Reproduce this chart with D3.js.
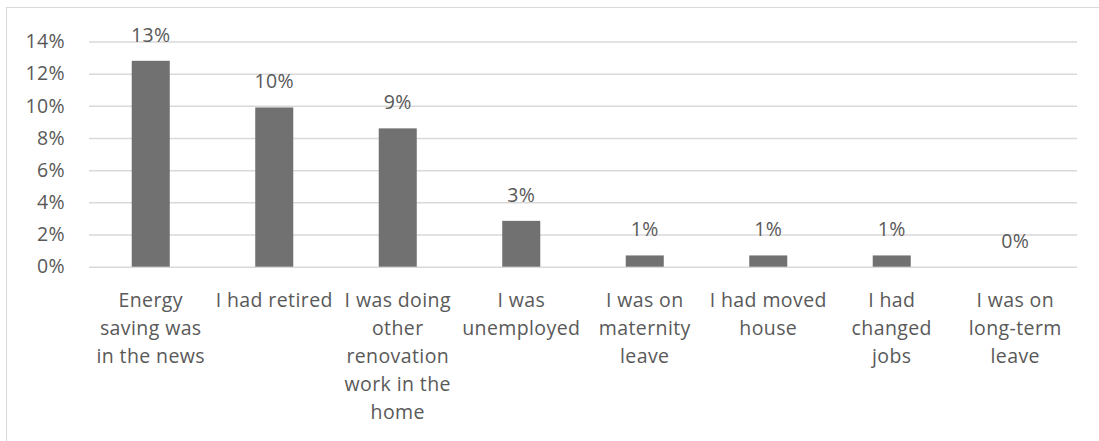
<!DOCTYPE html>
<html>
<head>
<meta charset="utf-8">
<script src="https://cdn.jsdelivr.net/npm/d3@7"></script>
<style>
  html, body { margin: 0; padding: 0; background: #ffffff; }
  svg { display: block; }
  text { font-family: "Open Sans", sans-serif; fill: #595959; letter-spacing: 0.4px; }
</style>
</head>
<body>
<svg id="chart" width="1099" height="441"></svg>
<script>
const categories = [
  "Energy|saving was|in the news",
  "I had retired",
  "I was doing|other|renovation|work in the|home",
  "I was|unemployed",
  "I was on|maternity|leave",
  "I had moved|house",
  "I had|changed|jobs",
  "I was on|long-term|leave"
];
const values = [12.8, 9.9, 8.6, 2.85, 0.7, 0.7, 0.7, 0.0];
const yTicks = [0, 2, 4, 6, 8, 10, 12, 14];

const svg = d3.select("#chart");
const fontSize = 19.5;
const fontFamily = "'Open Sans', sans-serif";

// chart border
svg.append("rect")
  .attr("x", 6.5).attr("y", 7.5)
  .attr("width", 1100).attr("height", 450)
  .attr("fill", "none").attr("stroke", "#d9d9d9").attr("stroke-width", 1);

const x = d3.scaleBand()
  .domain(categories)
  .range([89, 1077])
  .paddingInner(0.692)
  .paddingOuter(0.346);

const y = d3.scaleLinear().domain([0, 14]).range([266.7, 41.5]);

// gridlines
const yAxis = d3.axisLeft(y)
  .tickValues(yTicks)
  .tickSize(-(1077 - 89))
  .tickPadding(24)
  .tickFormat(d => d + "%");

const gY = svg.append("g").attr("transform", "translate(89,0)").call(yAxis);
gY.select(".domain").remove();
gY.selectAll(".tick line").attr("stroke", "#d9d9d9").attr("stroke-width", 1.5);
gY.selectAll(".tick text")
  .attr("font-size", fontSize)
  .attr("fill", "#595959")
  .style("font-family", fontFamily);

// bars
svg.append("g").selectAll("rect")
  .data(values)
  .join("rect")
  .attr("x", (d, i) => x(categories[i]))
  .attr("width", x.bandwidth())
  .attr("y", d => y(d))
  .attr("height", d => y(0) - y(d))
  .attr("fill", "#717171");

// data labels
svg.append("g").selectAll("text")
  .data(values)
  .join("text")
  .attr("x", (d, i) => x(categories[i]) + x.bandwidth() / 2)
  .attr("y", d => y(d) - 19)
  .attr("text-anchor", "middle")
  .attr("font-size", fontSize)
  .style("font-family", fontFamily)
  .text(d => Math.round(d) + "%");

// category labels (x axis)
const xAxis = d3.axisBottom(x).tickSize(0).tickFormat("");
const gX = svg.append("g").attr("transform", "translate(0,266.7)").call(xAxis);
gX.select(".domain").remove();
gX.selectAll(".tick").each(function(d) {
  const lines = d.split("|");
  const t = d3.select(this).append("text")
    .attr("text-anchor", "middle")
    .attr("font-size", fontSize)
    .attr("fill", "#595959")
    .style("font-family", fontFamily);
  lines.forEach((ln, k) => {
    t.append("tspan").attr("x", 0).attr("y", 40 + k * 28).text(ln);
  });
});
</script>
</body>
</html>
